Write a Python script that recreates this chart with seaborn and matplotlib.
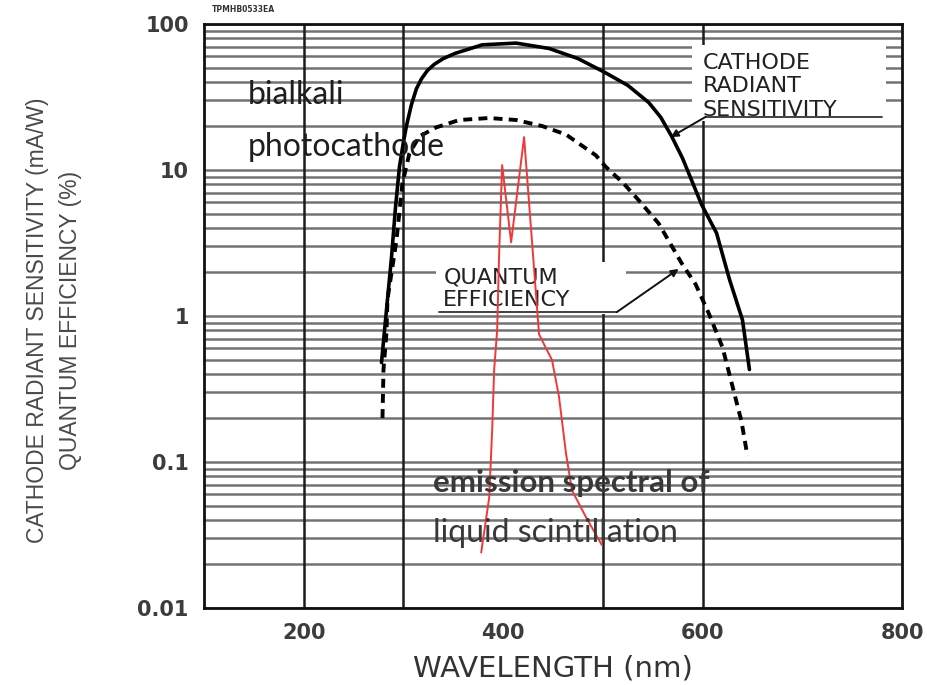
import numpy as np
import pandas as pd
import matplotlib
matplotlib.use("Agg")
import matplotlib.pyplot as plt
from matplotlib.ticker import LogLocator, FixedLocator, NullFormatter
from matplotlib.patches import Rectangle
import seaborn as sns

# ---------------- data ----------------
sens_wl = [278, 283, 288, 292, 296, 300, 303, 308, 313, 318, 324, 331, 340,
           352, 379, 413, 446, 475, 501, 525, 546, 558, 569, 580, 589, 599,
           614, 627, 640, 647]
sens_val = [0.48, 1.1, 2.5, 5.5, 10.5, 15.5, 20, 28, 36, 42, 48, 53, 58,
            63, 72, 74, 68, 58, 47, 38, 29, 23, 17, 12, 8.5, 5.8,
            3.7, 1.78, 0.94, 0.43]

qe_wl = [279, 280, 283, 284, 293, 299, 306, 316, 333, 356, 386, 413, 439,
         463, 493, 503, 520, 536, 556, 579, 593, 606, 620, 630, 639, 645]
qe_val = [0.2, 0.43, 0.77, 1.3, 3.3, 8.1, 13, 17, 19.6, 22, 22.7, 22, 20,
          17.5, 12.6, 10.5, 8.2, 6.2, 4.3, 2.3, 1.65, 1.05, 0.61, 0.33,
          0.19, 0.11]

em_wl = [378, 386, 389, 391, 394, 396, 399, 408, 421, 436, 442, 449, 456,
         463, 469, 483, 499]
em_val = [0.024, 0.057, 0.166, 0.43, 0.80, 2.7, 10.8, 3.2, 16.8, 0.75, 0.62,
          0.50, 0.28, 0.115, 0.064, 0.042, 0.027]

x_ticks = [200, 400, 600, 800]
x_tick_labels = ["200", "400", "600", "800"]
y_ticks = [0.01, 0.1, 1, 10, 100]
y_tick_labels = ["0.01", "0.1", "1", "10", "100"]
vgrid_nm = [200, 300, 500, 600]

# annotation anchors (nm, value)
cath_text_pos = (600, 63)
cath_mask = (589, 784, 21.7, 71.8)
cath_underline = ([603, 780], [23.1, 23.1])
cath_arrow = ((568, 16.8), (603, 23.1))
qe_text_pos = (340, 2.14)
qe_mask = (333, 523, 1.04, 2.34)
qe_underline = ([336, 514], [1.064, 1.064])
qe_arrow = ((576, 2.1), (514, 1.064))

# ---------------- figure ----------------
sns.set_theme(style="white")
plt.rcParams["font.family"] = ["DejaVu Sans"]

W, H = 927, 685
fig = plt.figure(figsize=(W / 100, H / 100), dpi=100)
ax = fig.add_axes([204 / W, 77 / H, 698 / W, 584 / H])
ax.set_yscale("log")
ax.set_xlim(100, 800)
ax.set_ylim(0.01, 100)

# horizontal log grid
ax.yaxis.set_major_locator(FixedLocator(y_ticks))
ax.yaxis.set_minor_locator(LogLocator(base=10, subs=np.arange(2, 10)))
ax.yaxis.set_minor_formatter(NullFormatter())
ax.set_axisbelow(True)
ax.grid(which="both", axis="y", color="#737373", lw=1.8)
ax.grid(which="both", axis="x", visible=False)
for v in vgrid_nm:
    ax.axvline(v, color="#1c1c1c", lw=1.8, zorder=1)

# white masks behind the labels
for (x0, x1, y0, y1) in (cath_mask, qe_mask):
    ax.add_patch(Rectangle((x0, y0), x1 - x0, y1 - y0, facecolor="white",
                           edgecolor="none", zorder=1.5))

# curves
df_s = pd.DataFrame({"wl": sens_wl, "val": sens_val})
df_q = pd.DataFrame({"wl": qe_wl, "val": qe_val})
df_e = pd.DataFrame({"wl": em_wl, "val": em_val})
sns.lineplot(data=df_s, x="wl", y="val", ax=ax, estimator=None, sort=False,
             color="black", lw=2.6, zorder=4)
sns.lineplot(data=df_q, x="wl", y="val", ax=ax, estimator=None, sort=False,
             color="black", lw=2.8, linestyle=(0, (2.3, 1.6)), zorder=4)
sns.lineplot(data=df_e, x="wl", y="val", ax=ax, estimator=None, sort=False,
             color="#f03838", lw=1.4, zorder=5)

# ticks
ax.set_xticks(x_ticks)
ax.set_xticklabels(x_tick_labels)
ax.set_yticks(y_ticks)
ax.set_yticklabels(y_tick_labels)
ax.tick_params(axis="both", which="both", length=0, pad=11,
               labelsize=15, labelcolor="#3c3c3c")
for lab in ax.get_xticklabels() + ax.get_yticklabels():
    lab.set_fontweight("bold")
ax.set_xlabel("")
ax.set_ylabel("")
for sp in ax.spines.values():
    sp.set_color("#111111")
    sp.set_linewidth(2.0)
    sp.set_zorder(6)

# annotation labels
lab_font = dict(family=["DejaVu Sans"], fontsize=16, color="#222222")
ax.text(*cath_text_pos, "CATHODE\nRADIANT\nSENSITIVITY", ha="left", va="top",
        linespacing=1.2, zorder=3, **lab_font)
ax.plot(*cath_underline, color="#333333", lw=1.3, zorder=3)
ax.annotate("", xy=cath_arrow[0], xytext=cath_arrow[1],
            arrowprops=dict(arrowstyle="-|>", color="#111111", lw=1.4,
                            mutation_scale=11, shrinkA=0, shrinkB=0), zorder=3)

ax.text(*qe_text_pos, "QUANTUM\nEFFICIENCY", ha="left", va="top",
        linespacing=1.15, zorder=3, **lab_font)
ax.plot(*qe_underline, color="#333333", lw=1.3, zorder=3)
ax.annotate("", xy=qe_arrow[0], xytext=qe_arrow[1],
            arrowprops=dict(arrowstyle="-|>", color="#111111", lw=1.4,
                            mutation_scale=11, shrinkA=0, shrinkB=0), zorder=3)

# free texts
fig.text(248 / W, 1 - 104 / H, "bialkali", ha="left", va="baseline",
         family=["Lato", "DejaVu Sans"], fontsize=23, color="#1e1e1e")
fig.text(248 / W, 1 - 156 / H, "photocathode", ha="left", va="baseline",
         family=["Lato", "DejaVu Sans"], fontsize=23, color="#1e1e1e")
fig.text(433 / W, 1 - 492 / H, "emission spectral of", ha="left",
         va="baseline", family=["Lato", "DejaVu Sans"], fontsize=22.5,
         fontweight="bold", color="#383838")
fig.text(433 / W, 1 - 542 / H, "liquid scintillation", ha="left",
         va="baseline", family=["Lato", "DejaVu Sans"], fontsize=23,
         color="#383838")

fig.text(212 / W, 1 - 10 / H, "TPMHB0533EA", ha="left", va="center",
         fontsize=5.5, fontweight="bold", color="#333333")

# axis titles
fig.text(553 / W, 1 - 668 / H, "WAVELENGTH (nm)", ha="center", va="center",
         fontsize=21, color="#333333")
ylab_font = dict(family=["Liberation Sans", "DejaVu Sans"],
                 fontsize=16.5, color="#4a4a4a", rotation=90,
                 ha="center", va="center")
fig.text(38 / W, 1 - 320 / H, "CATHODE RADIANT SENSITIVITY (mA/W)", **ylab_font)
fig.text(71 / W, 1 - 320 / H, "QUANTUM EFFICIENCY (%)", **ylab_font)

fig.savefig("out.png", dpi=100)
